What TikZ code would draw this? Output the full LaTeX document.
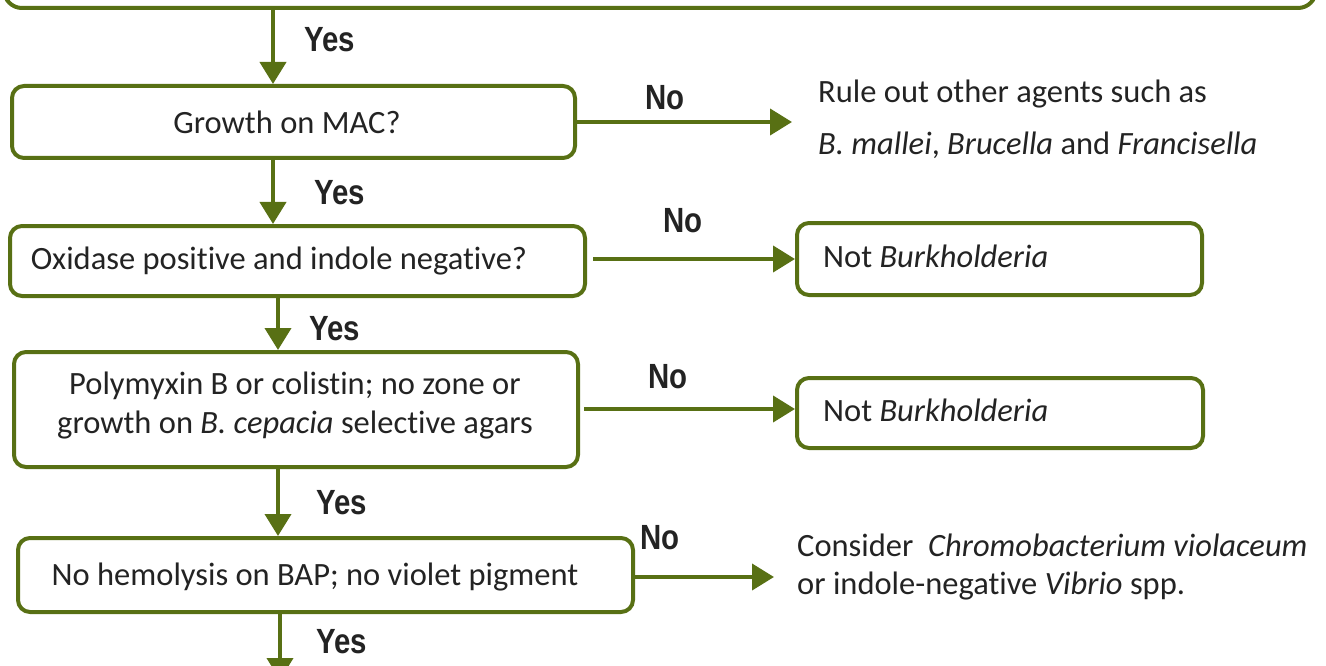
\documentclass[tikz,border=0pt]{standalone}
\usepackage{fontspec}
\setmainfont{Carlito}[Ligatures=NoCommon]
\newfontfamily\labfont[FakeStretch=0.84]{Liberation Sans Bold}
\usetikzlibrary{arrows.meta}
\definecolor{olive}{RGB}{88,112,20}
\definecolor{ink}{RGB}{35,35,35}
\begin{document}
\begin{tikzpicture}[x=1pt,y=-1pt,
  box/.style={draw=olive,line width=4pt,rounded corners=12pt,fill=white,inner sep=0pt},
  txt/.style={text=ink,font=\fontsize{32.5}{39}\selectfont,inner sep=0pt},
  lab/.style={text=ink,font=\labfont\fontsize{35}{40}\selectfont,inner sep=0pt},
  conn/.style={draw=olive,line width=4pt,-{Triangle[length=22pt,width=26pt]}},
]
\useasboundingbox (0,0) rectangle (1326,666);
\clip (0,0) rectangle (1326,666);
% top (cut) box
\node[box,rounded corners=18pt,minimum width=1312pt,minimum height=60pt] (top) at (660,-22) {};
% main boxes
\node[box,minimum width=563pt,minimum height=72pt] (b1) at (293.5,122) {};
\node[txt] (t1) at (287,122) {Growth on MAC?};
\node[box,minimum width=575pt,minimum height=70pt] (b2) at (297.5,261) {};
\node[txt] (t2) at (279,261) {Oxidase positive and indole negative?};
\node[box,minimum width=564pt,minimum height=115pt] (b3) at (296,409.5) {};
\node[txt,align=center] (t3) at (295,406) {Polymyxin B or colistin; no zone or\\growth on \textit{B. cepacia} selective agars};
\node[box,minimum width=615pt,minimum height=74pt] (b4) at (325.5,575) {};
\node[txt] (t4) at (315,577) {No hemolysis on BAP; no violet pigment};
% right boxes
\node[box,minimum width=405pt,minimum height=72pt] (nb1) at (999.5,259) {};
\node[txt,anchor=west] (tn1) at (823,256) {Not \textit{Burkholderia}};
\node[box,minimum width=406pt,minimum height=70pt] (nb2) at (1000,413) {};
\node[txt,anchor=west] (tn2) at (823,410) {Not \textit{Burkholderia}};
\node[txt,anchor=west,align=left,font=\fontsize{32.5}{52}\selectfont] (r1) at (818,119) {Rule out other agents such as\\\textit{B. mallei}, \textit{Brucella} and \textit{Francisella}};
\node[txt,anchor=west,align=left,font=\fontsize{32.5}{38}\selectfont] (r2) at (797,567) {Consider\ \ \textit{Chromobacterium violaceum}\\or indole-negative \textit{Vibrio} spp.};
% coordinates
\coordinate (e1) at (792,122);
\coordinate (e4) at (774,577);
\coordinate (bot) at (280,680);
% vertical connectors
\draw[conn] (top.south -| 273,0) -- (b1.north -| 273,0);
\draw[conn] (b1.south -| 273,0) -- (b2.north -| 273,0);
\draw[conn] (b2.south -| 278,0) -- (b3.north -| 278,0);
\draw[conn] (b3.south -| 278,0) -- (b4.north -| 278,0);
\draw[conn] (b4.south -| 280,0) -- (bot);
% horizontal connectors
\draw[conn] (b1.east) -- (e1);
\draw[conn] ([xshift=6pt]b2.east |- 0,259) -- (nb1.west |- 0,259);
\draw[conn] ([xshift=4pt]b3.east |- 0,409) -- (nb2.west |- 0,409);
\draw[conn] (b4.east |- 0,577) -- (e4);
% labels
\node[lab] (y1) at (330,40) {Yes};
\node[lab] (y2) at (340,193) {Yes};
\node[lab] (y3) at (335,329) {Yes};
\node[lab] (y4) at (342,503) {Yes};
\node[lab] (y5) at (342,642) {Yes};
\node[lab] (no1) at (665,98) {No};
\node[lab] (no2) at (683,221) {No};
\node[lab] (no3) at (668,377) {No};
\node[lab] (no4) at (660,538) {No};
\end{tikzpicture}
\end{document}
